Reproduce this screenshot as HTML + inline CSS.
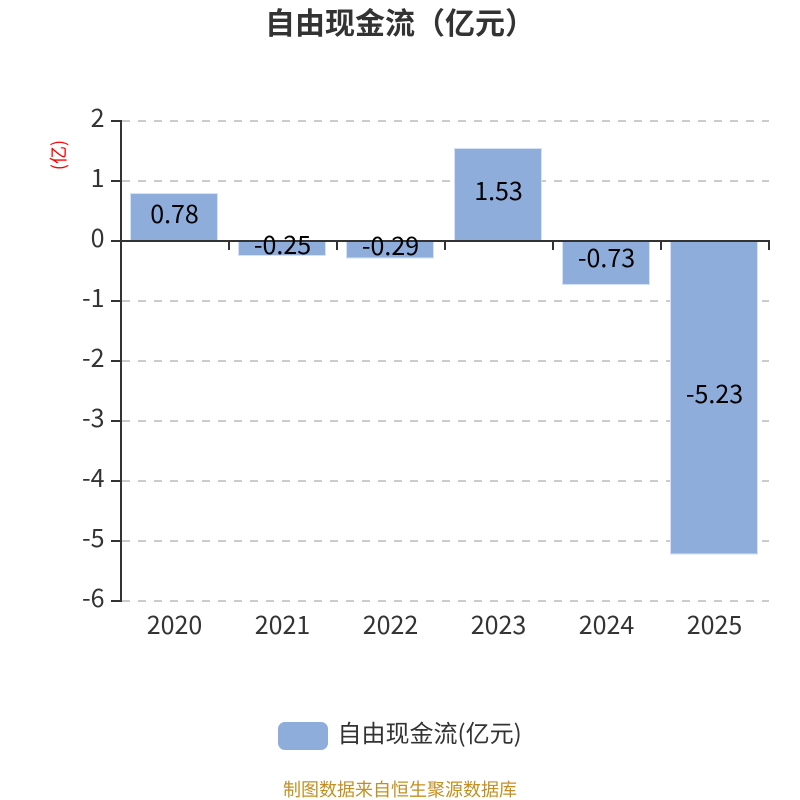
<!DOCTYPE html>
<html><head><meta charset="utf-8"><style>
html,body{margin:0;padding:0;background:#fff;width:800px;height:800px;overflow:hidden}
svg{display:block}
text{font-family:"Noto Sans CJK SC","Liberation Sans",sans-serif}
.y{font-size:25px;fill:#333;text-anchor:end}
.x{font-size:25px;fill:#333;text-anchor:middle}
.v{font-size:25px;fill:#000;text-anchor:middle}
.g{stroke:#ccc;stroke-width:2;stroke-dasharray:8 8}
.a{stroke:#333;stroke-width:2;fill:none}
.b{fill:#8eadda;stroke:#d5e2f5;stroke-width:1}
</style></head><body>
<svg width="800" height="800" viewBox="0 0 800 800" xmlns="http://www.w3.org/2000/svg">
<text x="400" y="34" font-size="30" font-weight="700" fill="#333" text-anchor="middle">自由现金流（亿元）</text>
<g class="g">
<line x1="122" x2="769" y1="121" y2="121"/>
<line x1="122" x2="769" y1="181" y2="181"/>
<line x1="122" x2="769" y1="301" y2="301"/>
<line x1="122" x2="769" y1="361" y2="361"/>
<line x1="122" x2="769" y1="421" y2="421"/>
<line x1="122" x2="769" y1="481" y2="481"/>
<line x1="122" x2="769" y1="541" y2="541"/>
<line x1="122" x2="769" y1="601" y2="601"/>
</g>
<rect class="b" x="130.5" y="193.5" width="87" height="47"/>
<rect class="b" x="238.5" y="240.5" width="87" height="15"/>
<rect class="b" x="346.5" y="240.5" width="87" height="17.5"/>
<rect class="b" x="454.5" y="148.5" width="87" height="92"/>
<rect class="b" x="562.5" y="240.5" width="87" height="44"/>
<rect class="b" x="670.5" y="240.5" width="87" height="313.5"/>
<g class="a">
<path d="M121 120V602"/>
<path d="M111 121H121M111 181H121M111 241H121M111 301H121M111 361H121M111 421H121M111 481H121M111 541H121M111 601H121"/>
<path d="M121 241H770"/>
<path d="M229 241V250M337 241V250M445 241V250M553 241V250M661 241V250M769 241V250"/>
</g>
<g class="y">
<text x="104.5" y="127">2</text><text x="104.5" y="187">1</text><text x="104.5" y="247">0</text>
<text x="104.5" y="307">-1</text><text x="104.5" y="367">-2</text><text x="104.5" y="427">-3</text>
<text x="104.5" y="487">-4</text><text x="104.5" y="547">-5</text><text x="104.5" y="607">-6</text>
</g>
<g class="x">
<text x="174.5" y="634">2020</text><text x="282.5" y="634">2021</text><text x="390.5" y="634">2022</text>
<text x="498.5" y="634">2023</text><text x="606.5" y="634">2024</text><text x="714.5" y="634">2025</text>
</g>
<g class="v">
<text x="174.5" y="223">0.78</text><text x="282.5" y="254">-0.25</text><text x="390.5" y="255">-0.29</text>
<text x="498.5" y="200">1.53</text><text x="606.5" y="267">-0.73</text><text x="714.5" y="403">-5.23</text>
</g>
<text transform="translate(65,155) rotate(-90)" font-size="18" fill="#f00" text-anchor="middle">(亿)</text>
<rect x="278" y="722" width="50" height="28" rx="7" fill="#8eadda"/>
<text x="337.5" y="742" font-size="24" fill="#333">自由现金流(亿元)</text>
<text x="400" y="796" font-size="18" fill="#c48f1f" text-anchor="middle">制图数据来自恒生聚源数据库</text>
</svg>
</body></html>
